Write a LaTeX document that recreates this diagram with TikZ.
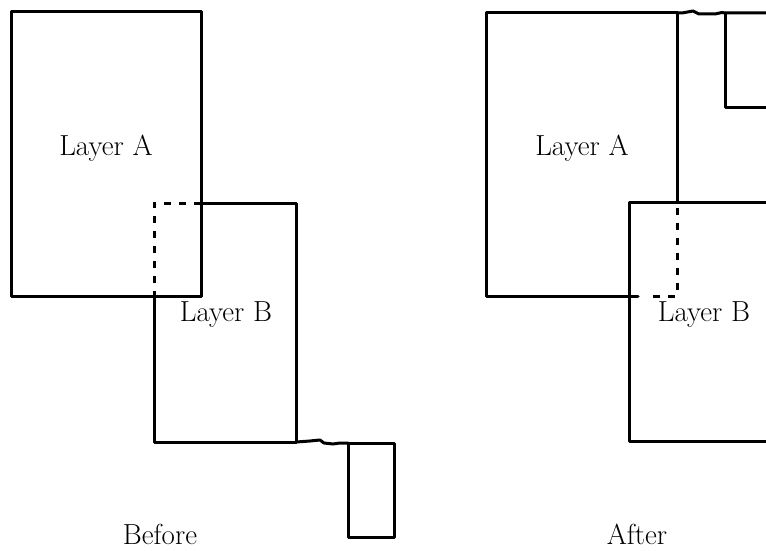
\documentclass[tikz,border=0pt]{standalone}
\begin{document}
\begin{tikzpicture}[x=1pt,y=-1pt,
  edge/.style={line width=3pt,line cap=round,line join=round},
  hidden/.style={line width=3pt,dash pattern=on 7pt off 8pt},
  lbl/.style={font=\fontsize{29}{32}\selectfont,inner sep=0pt,anchor=base}]
\useasboundingbox (0,0) rectangle (766,551);
\clip (0,0) rectangle (766,551);
% ---------- Before ----------
\draw[edge] (154,296) -- (11,296) -- (11,12) -- (201,12) -- (201,296) -- (154,296);
\draw[edge] (154,296) -- (154,442) -- (296,442) -- (296,203) -- (201,203);
\draw[hidden] (201,203) -- (154,203) -- (154,296);
\draw[edge] (296,442) -- (310,441) -- (320,440) -- (324,443) -- (333,444) -- (340,443) -- (348,443);
\draw[edge] (348,443) rectangle (394,537);
\node[lbl] (la) at (106,155) {Layer A};
\node[lbl] (lb) at (226,321) {Layer B};
\node[lbl] (before) at (160,544) {Before};
% ---------- After ----------
\draw[edge] (677,202) -- (677,13) -- (486,13) -- (486,296) -- (638,296);
\draw[hidden] (653,296) -- (677,296) -- (677,202);
\draw[edge] (780,202) -- (629,202) -- (629,441) -- (780,441);
\draw[edge] (677,13) -- (682,13) -- (693,11) -- (699,14) -- (715,14) -- (722,12.5) -- (725,13) -- (780,13);
\draw[edge] (725,13) -- (725,107) -- (780,107);
\node[lbl] (ra) at (582,155) {Layer A};
\node[lbl] (rb) at (704,321) {Layer B};
\node[lbl] (after) at (637,544) {After};
\end{tikzpicture}
\end{document}
